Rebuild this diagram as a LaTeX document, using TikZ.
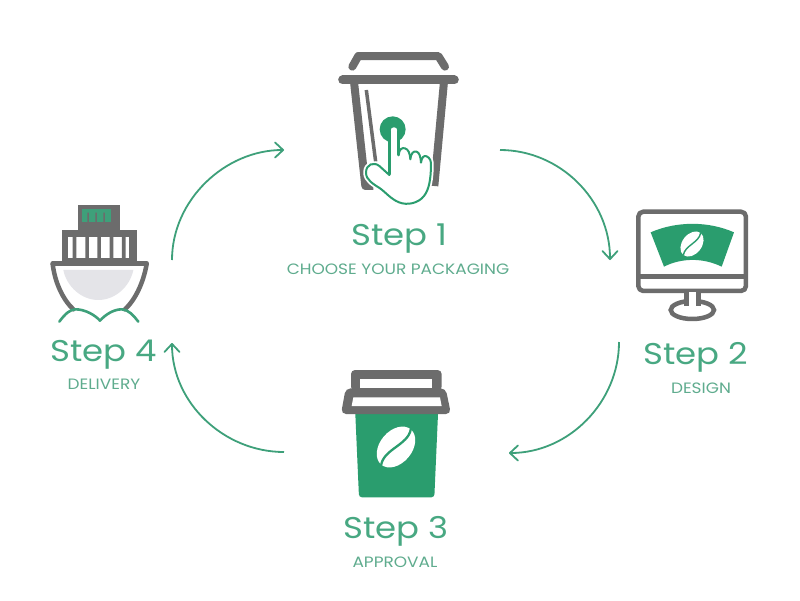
\documentclass[tikz,border=0pt]{standalone}
\usepackage{fontspec}
\setmainfont[FakeStretch=1.13]{Poppins}
\usetikzlibrary{arrows.meta}
\definecolor{gn}{RGB}{62,160,122}
\definecolor{cupgn}{RGB}{42,157,110}
\definecolor{txt}{RGB}{72,168,130}
\definecolor{ltxt}{RGB}{95,172,142}
\definecolor{gy}{RGB}{108,108,108}
\definecolor{lgy}{RGB}{228,228,232}
\tikzset{
  steptitle/.style={text=txt,inner sep=0pt,anchor=base,font=\fontsize{30}{32}\selectfont},
  steplabel/.style={text=ltxt,inner sep=0pt,anchor=base,font=\fontsize{15}{17}\selectfont},
  cycle/.style={draw=gn,line width=1.8pt,-{Straight Barb[length=8pt,width=15pt,line width=1.8pt,round]}},
  gline/.style={draw=gy,line cap=round,line join=round},
  icon/.style={shift={(#1)},x=0.3333pt,y=-0.3333pt}
}
\newcommand{\beanshape}[3]{%
  \begin{scope}[shift={(#1)},rotate=#2,scale=#3]
    \fill[white] (0,0) ellipse [x radius=1pt,y radius=0.7pt];
    \draw[line width=#3*0.1pt,draw=cupgn,line cap=round] (-1pt,0) .. controls (-0.4pt,0.34pt) and (0.4pt,-0.34pt) .. (1pt,0);
  \end{scope}}
\begin{document}
\begin{tikzpicture}[x=1pt,y=-1pt]
\useasboundingbox (0,0) rectangle (800,600);
\fill[white] (0,0) rectangle (800,600);

% --- cup 1
\begin{scope}[icon={320pt,-40pt}]
  \draw[gline,line width=8pt] (97,80) -- (115,48) -- (355,48) -- (375,80);
  \draw[gline,line width=9pt] (68,120) -- (403,120);
  \draw[gline,line width=8pt,line cap=butt] (102,125) -- (136,438) -- (160,438);
  \draw[gline,line width=8pt,line cap=butt] (372,125) -- (343,438);
  \draw[gy,line width=3.5pt] (139,150) -- (167,365);
  \def\handpath{(208,272) .. controls (208,254) and (236,254) .. (236,272)
    -- (236,345) .. controls (238,328) and (245,322) .. (255,325)
    .. controls (265,328) and (270,340) .. (271,358)
    .. controls (273,340) and (280,332) .. (290,335)
    .. controls (298,338) and (302,350) .. (303,368)
    .. controls (305,352) and (312,345) .. (320,349)
    .. controls (330,354) and (334,362) .. (333,380)
    .. controls (332,415) and (328,448) .. (312,468)
    .. controls (295,490) and (262,497) .. (237,487)
    .. controls (212,477) and (195,455) .. (180,445)
    .. controls (160,432) and (138,420) .. (138,398)
    .. controls (138,372) and (162,365) .. (178,378)
    -- (208,405) -- cycle}
  \draw[draw=white,line width=5.5pt,line join=round] \handpath;
  \fill[cupgn] (218,268) circle [radius=39];
  \draw[draw=cupgn,line width=2pt,fill=white,line join=round] \handpath;
  \draw[draw=cupgn,line width=3.5pt,line cap=round] (209,272) -- (209,402);
  \draw[draw=cupgn,line width=2.6pt,line cap=round] (235,272) -- (235,345);
\end{scope}

% --- ship
\begin{scope}[icon={30pt,-190pt}]
  \fill[gy] (145,45) rectangle (270,120);
  \fill[gn] (157,56) rectangle (242,97);
  \fill[gy] (172,68) rectangle (177,97) (196,68) rectangle (201,97) (220,68) rectangle (225,97);
  \fill[gy] (95,120) rectangle (322,215);
  \fill[white] (113,140) rectangle (296,205);
  \fill[gy] (128,140) rectangle (139,205) (166,140) rectangle (177,205) (202,140) rectangle (213,205) (239,140) rectangle (250,205) (276,140) rectangle (287,205);
  \fill[lgy] (100,240) -- (310,240) .. controls (300,290) and (255,330) .. (205,330) .. controls (155,330) and (110,290) .. (100,240) -- cycle;
  \draw[gline,line width=4.5pt] (68,220) -- (350,220);
  \draw[gline,line width=4.5pt] (68,222) .. controls (75,280) and (100,330) .. (130,358);
  \draw[gline,line width=4.5pt] (350,222) .. controls (340,280) and (315,330) .. (285,358);
  \draw[draw=gn,line width=2.6pt,line cap=round,line join=round] (88,395) .. controls (105,372) and (120,358) .. (137,358)
     .. controls (165,358) and (195,375) .. (210,392)
     .. controls (225,375) and (250,358) .. (275,358)
     .. controls (295,358) and (312,378) .. (325,395);
\end{scope}

% --- monitor
\begin{scope}[icon={620pt,-195pt}]
  \draw[gline,line width=4.5pt,rounded corners=5pt] (55,50) rectangle (378,288);
  \draw[gy,line width=4.5pt] (55,245) -- (378,245);
  \fill[cupgn] (92,112) .. controls (170,78) and (265,78) .. (342,112)
     -- (305,215) .. controls (250,188) and (185,188) .. (132,215) -- cycle;
  \draw[gy,line width=4.5pt,fill=white] (217,345) ellipse [x radius=65,y radius=27];
  \fill[white] (204,290) rectangle (233,332);
  \draw[gy,line width=4.5pt] (200,290) -- (200,332) (235,290) -- (235,332);
\end{scope}
\beanshape{692pt,-244pt}{52}{14}

% --- cup 3
\begin{scope}[icon={325pt,-360pt}]
  \fill[cupgn,rounded corners=3pt] (90,140) -- (340,140) -- (328,412) -- (102,412) -- cycle;
  \fill[gy,rounded corners=4pt] (78,30) rectangle (350,92);
  \fill[white] (105,58) rectangle (322,85);
  \fill[gy,rounded corners=5pt] (62,85) -- (362,85) -- (378,162) -- (48,162) -- cycle;
  \fill[white] (85,112) -- (345,112) -- (350,138) -- (80,138) -- cycle;
\end{scope}
\beanshape{396pt,-447pt}{50}{23}

% --- labels
\node[steptitle] (s1) at (399.5,245.5) {Step 1};
\node[steplabel] (l1) at (398,274) {CHOOSE YOUR PACKAGING};
\node[steptitle] (s2) at (695.5,364.5) {Step 2};
\node[steplabel] (l2) at (701,393) {DESIGN};
\node[steptitle] (s3) at (396,538.5) {Step 3};
\node[steplabel] (l3) at (395,567) {APPROVAL};
\node[steptitle] (s4) at (103.5,361.5) {Step 4};
\node[steplabel] (l4) at (104,389) {DELIVERY};

% --- connectors
\coordinate (a1) at (172,260); \coordinate (a2) at (284,150);
\coordinate (b1) at (500,150); \coordinate (b2) at (610,260);
\coordinate (c1) at (619,342); \coordinate (c2) at (509,453);
\coordinate (d1) at (284,452); \coordinate (d2) at (172,343);
\draw[cycle] (a1) .. controls (172,200) and (225,150) .. (a2);
\draw[cycle] (b1) .. controls (560,150) and (610,200) .. (b2);
\draw[cycle] (c1) .. controls (619,402) and (569,453) .. (c2);
\draw[cycle] (d1) .. controls (224,452) and (172,403) .. (d2);
\end{tikzpicture}
\end{document}
